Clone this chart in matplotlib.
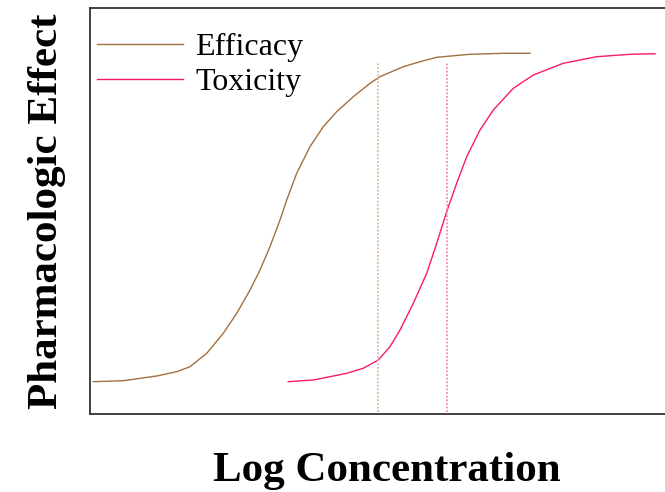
import matplotlib
matplotlib.use("Agg")
import matplotlib.pyplot as plt

# Data (log concentration, pharmacologic effect %)
efficacy_x = [0.057, 0.579, 1.160, 1.508, 1.739, 2.030, 2.318, 2.551, 2.783,
              2.957, 3.130, 3.304, 3.421, 3.595, 3.826, 4.057, 4.290, 4.579,
              4.870, 5.043, 5.449, 5.739, 6.030, 6.609, 7.188, 7.652]
efficacy_y = [7.96, 8.20, 9.36, 10.42, 11.65, 14.95, 19.88, 24.80, 30.54,
              35.47, 41.21, 47.78, 52.71, 59.29, 65.84, 70.76, 74.46, 78.15,
              81.45, 83.08, 85.54, 86.77, 87.86, 88.60, 88.84, 88.84]

toxicity_x = [3.449, 3.883, 4.464, 4.753, 5.014, 5.217, 5.391, 5.623, 5.856,
              6.030, 6.203, 6.377, 6.551, 6.783, 7.014, 7.362, 7.710, 8.231,
              8.812, 9.391, 9.826]
toxicity_y = [7.96, 8.37, 10.02, 11.26, 13.30, 16.58, 20.69, 27.27, 34.66,
              42.04, 49.83, 56.82, 63.37, 69.95, 74.88, 80.22, 83.50, 86.38,
              88.00, 88.60, 88.74]

marker_x = [5.009, 6.209]        # vertical reference lines
marker_top = 86.7
marker_bottom = 0.5

eff_color = "#a2713f"
tox_color = "#fa1a6a"
eff_marker_color = "#d8b89a"
tox_marker_color = "#f78ab2"

plt.rcParams["font.family"] = ["Liberation Serif", "DejaVu Serif"]

fig = plt.figure(figsize=(6.65, 4.92), dpi=100)
ax = fig.add_axes([90 / 665, 1 - 414 / 492, (683 - 90) / 665, (414 - 8) / 492])

ax.plot(efficacy_x, efficacy_y, color=eff_color, lw=1.0, label="Efficacy")
ax.plot(toxicity_x, toxicity_y, color=tox_color, lw=1.0, label="Toxicity")

ax.vlines(marker_x[0], marker_bottom, marker_top, colors=eff_marker_color, lw=1.3,
          linestyles=(0, (1, 1)))
ax.vlines(marker_x[1], marker_bottom, marker_top, colors=tox_marker_color, lw=1.3,
          linestyles=(0, (1, 1)))

ax.set_xlim(0, 10.313)
ax.set_ylim(0, 100)
ax.set_xticks([])
ax.set_yticks([])
for s in ax.spines.values():
    s.set_color("#333333")
    s.set_linewidth(1.3)

ax.set_xlabel("Log Concentration", fontsize=31, fontweight="bold", labelpad=27)
ax.set_ylabel("Pharmacologic Effect", fontsize=31, fontweight="bold", labelpad=17)

ax.legend(loc="upper left", bbox_to_anchor=(0.012, 0.94), frameon=False,
          fontsize=23, handlelength=2.7, handletextpad=0.38, labelspacing=0.18,
          borderpad=0, borderaxespad=0)

fig.savefig("out.png", dpi=100)
